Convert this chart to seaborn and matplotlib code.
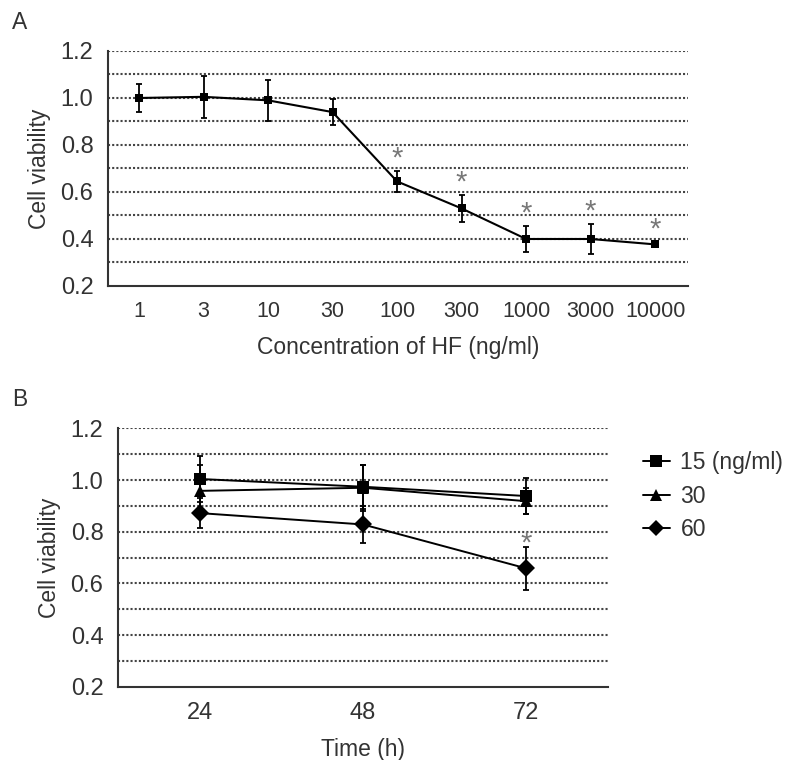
import numpy as np
import pandas as pd
import seaborn as sns
from matplotlib import pyplot as plt
from matplotlib.lines import Line2D

# Panel A data
conc_labels = ["1", "3", "10", "30", "100", "300", "1000", "3000", "10000"]
viab_a = [1.00, 1.005, 0.99, 0.94, 0.645, 0.53, 0.40, 0.40, 0.377]
err_a = [0.06, 0.09, 0.086, 0.055, 0.043, 0.057, 0.056, 0.065, 0.01]
sig_a = [False, False, False, False, True, True, True, True, True]

# Panel B data
time_labels = ["24", "48", "72"]
dose_labels = ["15 (ng/ml)", "30", "60"]
viab_15 = [1.004, 0.974, 0.938]
viab_30 = [0.958, 0.970, 0.918]
viab_60 = [0.872, 0.828, 0.658]
err_15 = [0.09, 0.085, 0.07]
err_30 = [0.10, 0.09, 0.05]
err_60 = [0.058, 0.07, 0.083]
sig_b = [[False, False, False], [False, False, False], [False, False, True]]

sns.set_style("white")
plt.rcParams["font.family"] = ["Liberation Sans", "DejaVu Sans"]
txt = "#333333"
grid_kw = dict(color="#444444", linestyle=(0, (1, 1)), linewidth=1.5)

fig = plt.figure(figsize=(7.85, 7.6), dpi=100)
ax_a = fig.add_axes([0.1376, 0.6237, 0.7389, 0.3092])
ax_b = fig.add_axes([0.1503, 0.0964, 0.6242, 0.3400])

# ---- Panel A
xa = np.arange(len(conc_labels))
df_a = pd.DataFrame({"x": xa, "viability": viab_a})
sns.lineplot(data=df_a, x="x", y="viability", ax=ax_a, color="black",
             marker="s", markersize=6, linewidth=1.5, markeredgewidth=0, zorder=4)
ax_a.errorbar(xa, viab_a, yerr=err_a, fmt="none", ecolor="black",
              elinewidth=1.3, capsize=2.5, capthick=1.3, zorder=4)
for x, v, e, s in zip(xa, viab_a, err_a, sig_a):
    if s:
        ax_a.annotate("*", (x, v + e), xytext=(0, -1), textcoords="offset points",
                      ha="center", va="bottom", fontsize=21, color="#777777")

ax_a.set_xlim(-0.48, 8.51)
ax_a.set_xticks(xa)
ax_a.set_xticklabels(conc_labels)
ax_a.set_xlabel("Concentration of HF (ng/ml)", fontsize=16.5, color=txt, labelpad=10)
ax_a.tick_params(axis="x", labelsize=15.5)

# ---- Panel B
xb = np.arange(len(time_labels))
df_b = pd.DataFrame({
    "x": np.tile(xb, 3),
    "viability": viab_15 + viab_30 + viab_60,
    "dose": np.repeat(dose_labels, len(xb)),
})
markers = {"15 (ng/ml)": "s", "30": "^", "60": "D"}
sns.lineplot(data=df_b, x="x", y="viability", hue="dose", style="dose",
             palette=["black"] * 3, markers=markers, dashes=False, ax=ax_b,
             markersize=9, linewidth=1.4, markeredgewidth=0, legend=False, zorder=4)
for vals, errs in zip([viab_15, viab_30, viab_60], [err_15, err_30, err_60]):
    ax_b.errorbar(xb, vals, yerr=errs, fmt="none", ecolor="black",
                  elinewidth=1.3, capsize=2.5, capthick=1.3, zorder=4)
for vals, errs, sigs in zip([viab_15, viab_30, viab_60], [err_15, err_30, err_60], sig_b):
    for x, v, e, s in zip(xb, vals, errs, sigs):
        if s:
            ax_b.annotate("*", (x, v + e), xytext=(0, -8), textcoords="offset points",
                          ha="center", va="bottom", fontsize=21, color="#777777")

ax_b.set_xlim(-0.5, 2.5)
ax_b.set_xticks(xb)
ax_b.set_xticklabels(time_labels)
ax_b.set_xlabel("Time (h)", fontsize=16.5, color=txt, labelpad=10)
ax_b.tick_params(axis="x", labelsize=17)

handles = [Line2D([], [], color="black", marker=markers[d], markersize=8,
                  linewidth=1.4, markeredgewidth=0) for d in dose_labels]
fig.legend(handles, dose_labels, loc="upper left", bbox_to_anchor=(0.807, 0.418),
           frameon=False, fontsize=16.5, handlelength=1.2, handletextpad=0.45,
           labelspacing=0.45, labelcolor=txt, borderaxespad=0)

# ---- common styling
for ax in (ax_a, ax_b):
    ax.set_ylim(0.2, 1.2)
    ax.set_yticks([0.2, 0.4, 0.6, 0.8, 1.0, 1.2])
    ax.set_yticklabels(["0.2", "0.4", "0.6", "0.8", "1.0", "1.2"])
    ax.set_yticks(np.arange(0.3, 1.2, 0.2), minor=True)
    for g in np.arange(0.3, 1.25, 0.1):
        ax.axhline(g, zorder=1, **grid_kw)
    ax.set_ylabel("Cell viability", fontsize=16.5, color=txt, labelpad=7)
    ax.spines["top"].set_visible(False)
    ax.spines["right"].set_visible(False)
    ax.spines["left"].set_color("#333333")
    ax.spines["bottom"].set_color("#333333")
    ax.spines["left"].set_linewidth(1.5)
    ax.spines["bottom"].set_linewidth(1.5)
    ax.tick_params(axis="y", which="both", direction="inout", length=9, width=1.2,
                   color="#333333", labelsize=17, labelcolor=txt, pad=6)
    ax.tick_params(axis="x", direction="out", length=6, width=1.2,
                   color="#333333", labelcolor=txt, pad=5)
    ax.grid(False)

fig.text(0.015, 0.971, "A", fontsize=16.5, color=txt, va="center")
fig.text(0.015, 0.474, "B", fontsize=16.5, color=txt, va="center")

fig.savefig("out.png", dpi=100)
